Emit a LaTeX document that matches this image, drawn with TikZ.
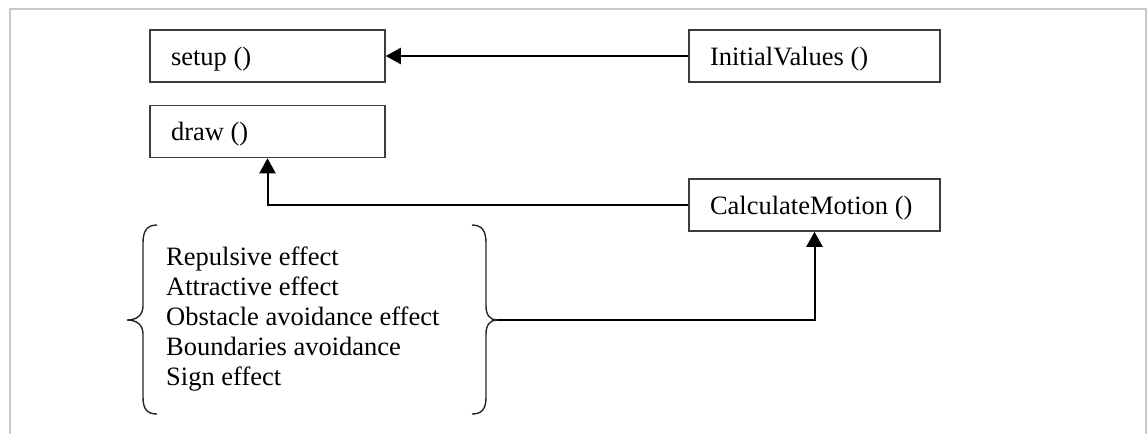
\documentclass[tikz,border=0pt]{standalone}
\usepackage{fontspec}
\setmainfont{Liberation Serif}
\usetikzlibrary{arrows.meta}
\definecolor{framegray}{RGB}{200,200,200}
\definecolor{boxline}{RGB}{60,60,60}
\begin{document}
\begin{tikzpicture}[x=1pt,y=-1pt,
  font=\fontsize{26.5}{30}\selectfont,
  func/.style={draw=boxline, line width=1.5pt, rectangle, inner xsep=21pt, inner ysep=0pt,
    minimum height=52pt, text height=18pt, text depth=0pt},
  link/.style={draw=black, line width=2pt, -{Triangle[length=15pt,width=16pt]}},
  brace/.style={draw=black!85, line width=1.4pt}]
\useasboundingbox (0,0) rectangle (1147,434);
% open frame
\draw[framegray, line width=2pt] (10,434) -- (10,9) -- (1146,9) -- (1146,434);

% functions
\node[func] (setup) at (267.5,56) {\makebox[193pt][l]{setup ()}};
\node[func] (draw) at (267.5,131.5) {\makebox[193pt][l]{draw ()}};
\node[func] (init) at (814.5,56) {\makebox[209pt][l]{InitialValues ()}};
\node[func] (calc) at (814.5,205) {\makebox[209pt][l]{CalculateMotion ()}};

% list of effects (anchored on the baseline of its last line)
\node[anchor=base west, align=left, inner sep=0pt] (effects) at (166,385)
  {Repulsive effect\\Attractive effect\\Obstacle avoidance effect\\Boundaries avoidance\\Sign effect};

% braces around the list
\draw[brace] (157,225) .. controls (147,225) and (143,231) .. (143,243) -- (143,306)
  .. controls (143,315) and (137,320) .. (127,320)
  .. controls (137,320) and (143,325) .. (143,334) -- (143,397)
  .. controls (143,409) and (147,414) .. (157,414);
\draw[brace] (472,225) .. controls (482,225) and (486,231) .. (486,243) -- (486,306)
  .. controls (486,315) and (490,320) .. (497,320)
  .. controls (490,320) and (486,325) .. (486,334) -- (486,397)
  .. controls (486,409) and (482,414) .. (472,414);
\coordinate (bracetip) at (497,320);

% connectors
\draw[link] (init.west) -- (setup.east);
\draw[link] (calc.west) -| (draw.south);
\draw[link] (bracetip) -| (calc.south);
\end{tikzpicture}
\end{document}
